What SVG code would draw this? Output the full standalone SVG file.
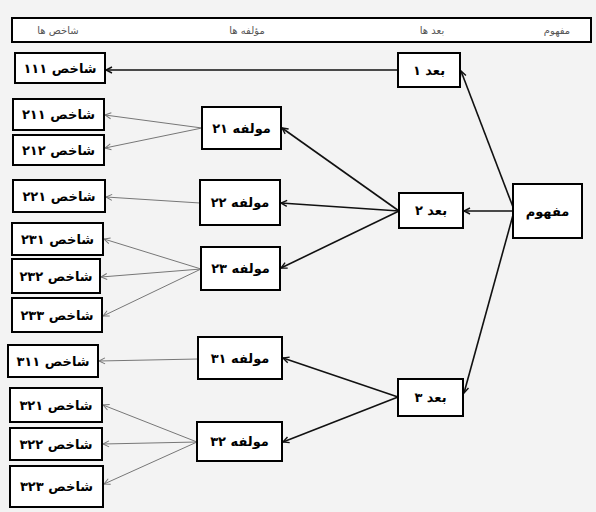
<svg xmlns="http://www.w3.org/2000/svg" width="596" height="512" viewBox="0 0 596 512">
<style>
.box{fill:#fff;stroke:#000;stroke-width:2}
.lbl{font-family:"DejaVu Sans",sans-serif;font-weight:bold;font-size:13px;fill:#000;text-anchor:middle;direction:rtl;unicode-bidi:embed}
.hdr{font-family:"DejaVu Sans",sans-serif;font-size:10px;fill:#555;text-anchor:middle;direction:rtl;unicode-bidi:embed}
.thick{stroke:#111;stroke-width:1.6;fill:none;marker-end:url(#ah)}
.thin{stroke:#777;stroke-width:1;fill:none;marker-end:url(#ahg)}
</style>
<defs>
<marker id="ah" markerUnits="userSpaceOnUse" markerWidth="10" markerHeight="10" refX="7" refY="4" orient="auto">
<path d="M1,1 L7,4 L1,7" fill="none" stroke="#111" stroke-width="1.4"/>
</marker>
<marker id="ahg" markerUnits="userSpaceOnUse" markerWidth="10" markerHeight="10" refX="7" refY="4" orient="auto">
<path d="M1,1 L7,4 L1,7" fill="none" stroke="#777" stroke-width="1"/>
</marker>
</defs>
<rect x="0" y="0" width="596" height="512" fill="#f3f3f3"/>
<g id="header">
<rect x="12" y="18" width="579" height="24" fill="#fff" stroke="#000" stroke-width="2"/>
<text class="hdr" x="557" y="34">مفهوم</text>
<text class="hdr" x="432" y="34">بعد ها</text>
<text class="hdr" x="247" y="34">مؤلفه ها</text>
<text class="hdr" x="58" y="34">شاخص ها</text>
</g>
<g id="connectors">
<line class="thick" x1="513" y1="207" x2="461" y2="71"/>
<line class="thick" x1="513" y1="211" x2="464" y2="211"/>
<line class="thick" x1="513" y1="215" x2="464" y2="393"/>
<line class="thick" x1="398" y1="70" x2="106" y2="70"/>
<line class="thick" x1="399" y1="211" x2="282" y2="128"/>
<line class="thick" x1="399" y1="211" x2="281" y2="203"/>
<line class="thick" x1="399" y1="211" x2="281" y2="268"/>
<line class="thick" x1="398" y1="397" x2="283" y2="358"/>
<line class="thick" x1="398" y1="397" x2="283" y2="442"/>
<line class="thin" x1="202" y1="128" x2="105" y2="115"/>
<line class="thin" x1="202" y1="128" x2="105" y2="148"/>
<line class="thin" x1="200" y1="203" x2="106" y2="197"/>
<line class="thin" x1="201" y1="269" x2="104" y2="239"/>
<line class="thin" x1="201" y1="269" x2="101" y2="277"/>
<line class="thin" x1="201" y1="269" x2="103" y2="316"/>
<line class="thin" x1="198" y1="359" x2="99" y2="361"/>
<line class="thin" x1="197" y1="442" x2="103" y2="405"/>
<line class="thin" x1="197" y1="442" x2="103" y2="444"/>
<line class="thin" x1="197" y1="442" x2="104" y2="484"/>
</g>
<g id="mafhoom"><rect class="box" x="513" y="184" width="69" height="54"/><text class="lbl" x="547.5" y="216">مفهوم</text></g>
<g id="bod1"><rect class="box" x="398" y="53" width="62" height="34"/><text class="lbl" x="429" y="75">بعد ۱</text></g>
<g id="bod2"><rect class="box" x="399" y="193" width="64" height="35"/><text class="lbl" x="431" y="215">بعد ۲</text></g>
<g id="bod3"><rect class="box" x="398" y="379" width="65" height="37"/><text class="lbl" x="430.5" y="402">بعد ۳</text></g>
<g id="m21"><rect class="box" x="202" y="107" width="79" height="42"/><text class="lbl" x="241.5" y="133">مولفه ۲۱</text></g>
<g id="m22"><rect class="box" x="200" y="180" width="80" height="45"/><text class="lbl" x="240" y="207">مولفه ۲۲</text></g>
<g id="m23"><rect class="box" x="201" y="247" width="79" height="43"/><text class="lbl" x="240.5" y="273">مولفه ۲۳</text></g>
<g id="m31"><rect class="box" x="198" y="337" width="84" height="42"/><text class="lbl" x="240" y="363">مولفه ۳۱</text></g>
<g id="m32"><rect class="box" x="197" y="422" width="85" height="39"/><text class="lbl" x="239.5" y="446">مولفه ۳۲</text></g>
<g id="s111"><rect class="box" x="15" y="53" width="90" height="30"/><text class="lbl" x="60" y="73">شاخص ۱۱۱</text></g>
<g id="s211"><rect class="box" x="13" y="99" width="91" height="31"/><text class="lbl" x="58.5" y="119">شاخص ۲۱۱</text></g>
<g id="s212"><rect class="box" x="13" y="135" width="91" height="30"/><text class="lbl" x="58.5" y="155">شاخص ۲۱۲</text></g>
<g id="s221"><rect class="box" x="13" y="180" width="92" height="32"/><text class="lbl" x="59" y="201">شاخص ۲۲۱</text></g>
<g id="s231"><rect class="box" x="12" y="223" width="91" height="32"/><text class="lbl" x="57.5" y="244">شاخص ۲۳۱</text></g>
<g id="s232"><rect class="box" x="12" y="259" width="88" height="34"/><text class="lbl" x="56" y="281">شاخص ۲۳۲</text></g>
<g id="s233"><rect class="box" x="12" y="298" width="90" height="34"/><text class="lbl" x="57" y="320">شاخص ۲۳۳</text></g>
<g id="s311"><rect class="box" x="8" y="345" width="90" height="32"/><text class="lbl" x="53" y="366">شاخص ۳۱۱</text></g>
<g id="s321"><rect class="box" x="10" y="388" width="92" height="34"/><text class="lbl" x="56" y="410">شاخص ۳۲۱</text></g>
<g id="s322"><rect class="box" x="10" y="428" width="92" height="32"/><text class="lbl" x="56" y="449">شاخص ۳۲۲</text></g>
<g id="s323"><rect class="box" x="10" y="466" width="93" height="41"/><text class="lbl" x="56.5" y="491">شاخص ۳۲۳</text></g>
</svg>
